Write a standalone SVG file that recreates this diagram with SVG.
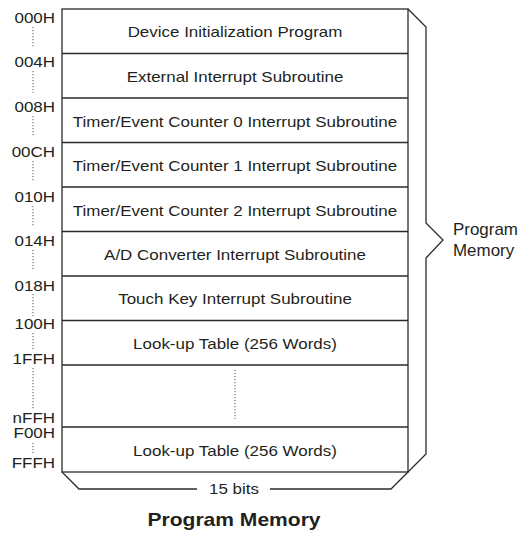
<svg xmlns="http://www.w3.org/2000/svg" width="522" height="533" viewBox="0 0 522 533">
<style>
.ln{stroke:#2b2b2b;stroke-width:1.3;fill:none}
.dot{stroke:#555;stroke-width:1;stroke-dasharray:1.2 1.8;fill:none}
text{font-family:"Liberation Sans",Arial,sans-serif;font-size:14.5px;fill:#231f20}
.addr{text-anchor:end}
.lbl{text-anchor:middle;font-size:15px}
.side{font-size:16px}
.title{font-size:18px;font-weight:bold;text-anchor:middle}
</style>
<rect width="522" height="533" fill="#fff"/>
<g id="connectors">
<path class="ln" d="M408,9 L426,27 L426,223 L443,240 L426,258 L426,454 L391,489 L270,489 M197,489 L79,489 L62,472"/>
<path class="dot" d="M33,27 V48 M33,71 V93 M33,116 V137 M33,161 V182 M33,206 V226 M33,250 V271 M33,294 V316 M33,333 V350 M33,368 V410 M33,443 V455 M235,370 V419"/>
</g>
<g id="memory-block">
<rect class="ln" x="62" y="9" width="346" height="463"/>
<path class="ln" d="M62,53.5 H408 M62,98 H408 M62,142.5 H408 M62,187 H408 M62,231.5 H408 M62,276 H408 M62,320.5 H408 M62,365 H408 M62,427 H408"/>
</g>
<g id="row-0"><text class="lbl" transform="translate(235,37) scale(1.13,1)">Device Initialization Program</text></g>
<g id="row-1"><text class="lbl" transform="translate(235,81.5) scale(1.13,1)">External Interrupt Subroutine</text></g>
<g id="row-2"><text class="lbl" transform="translate(235,126.5) scale(1.13,1)">Timer/Event Counter 0 Interrupt Subroutine</text></g>
<g id="row-3"><text class="lbl" transform="translate(235,171) scale(1.13,1)">Timer/Event Counter 1 Interrupt Subroutine</text></g>
<g id="row-4"><text class="lbl" transform="translate(235,215.5) scale(1.13,1)">Timer/Event Counter 2 Interrupt Subroutine</text></g>
<g id="row-5"><text class="lbl" transform="translate(235,260) scale(1.13,1)">A/D Converter Interrupt Subroutine</text></g>
<g id="row-6"><text class="lbl" transform="translate(235,304) scale(1.13,1)">Touch Key Interrupt Subroutine</text></g>
<g id="row-7"><text class="lbl" transform="translate(235,348.5) scale(1.13,1)">Look-up Table (256 Words)</text></g>
<g id="row-9"><text class="lbl" transform="translate(235,455.5) scale(1.13,1)">Look-up Table (256 Words)</text></g>
<g id="addresses">
<text class="addr" transform="translate(55,22.5) scale(1.17,1)">000H</text>
<text class="addr" transform="translate(55,67) scale(1.17,1)">004H</text>
<text class="addr" transform="translate(55,111.5) scale(1.17,1)">008H</text>
<text class="addr" transform="translate(55,156.5) scale(1.17,1)">00CH</text>
<text class="addr" transform="translate(55,201.5) scale(1.17,1)">010H</text>
<text class="addr" transform="translate(55,246) scale(1.17,1)">014H</text>
<text class="addr" transform="translate(55,290.5) scale(1.17,1)">018H</text>
<text class="addr" transform="translate(55,329) scale(1.17,1)">100H</text>
<text class="addr" transform="translate(55,364) scale(1.17,1)">1FFH</text>
<text class="addr" transform="translate(55,423) scale(1.17,1)">nFFH</text>
<text class="addr" transform="translate(55,438) scale(1.17,1)">F00H</text>
<text class="addr" transform="translate(55,468) scale(1.17,1)">FFFH</text>
</g>
<g id="side-label"><text class="side" transform="translate(453,235) scale(1.06,1)">Program</text><text class="side" transform="translate(453,256) scale(1.06,1)">Memory</text></g>
<g id="width-label"><text class="lbl" transform="translate(234,494) scale(1.13,1)">15 bits</text></g>
<g id="title"><text class="title" transform="translate(234,526) scale(1.17,1)">Program Memory</text></g>
</svg>
